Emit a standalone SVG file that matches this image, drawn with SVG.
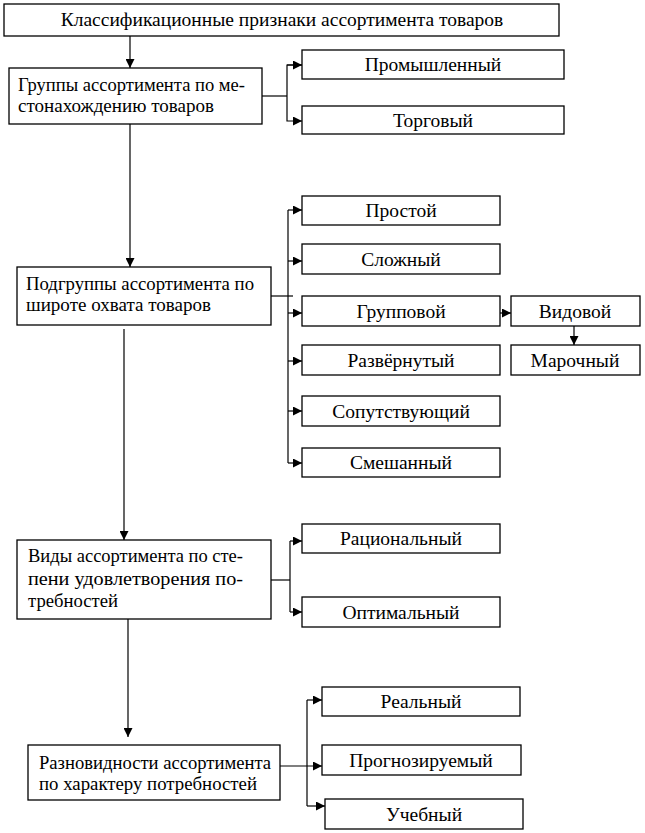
<svg xmlns="http://www.w3.org/2000/svg" width="645" height="833" viewBox="0 0 645 833">
<style>
rect{fill:#fff;stroke:#000;stroke-width:1.3}
text{font-family:'Liberation Serif','Times New Roman',serif;font-size:19.5px;fill:#000}
.c{text-anchor:middle}
.l{font-size:19px}
#connectors line,#connectors path{stroke:#000;stroke-width:1.2;fill:none}
</style>
<defs>
<marker id="ah" viewBox="0 0 10 10" refX="10" refY="5" markerWidth="9" markerHeight="9" markerUnits="userSpaceOnUse" orient="auto">
<path d="M0,0 L10,5 L0,10 z" fill="#000"/>
</marker>
</defs>
<rect width="645" height="833" style="fill:#fff;stroke:none"/>
<g id="connectors">
<line x1="130" y1="36" x2="130" y2="68" marker-end="url(#ah)"/>
<line x1="262" y1="96" x2="287" y2="96"/>
<path d="M302,65 H287 V121 H302" marker-end="url(#ah)"/>
<line x1="287" y1="65" x2="302" y2="65" marker-end="url(#ah)"/>
<line x1="130" y1="124" x2="130" y2="267" marker-end="url(#ah)"/>
<line x1="271" y1="296" x2="293" y2="296"/>
<line x1="288" y1="210" x2="288" y2="463"/>
<line x1="288" y1="210" x2="302" y2="210" marker-end="url(#ah)"/>
<line x1="288" y1="261" x2="302" y2="261" marker-end="url(#ah)"/>
<line x1="288" y1="313" x2="302" y2="313" marker-end="url(#ah)"/>
<line x1="288" y1="361" x2="302" y2="361" marker-end="url(#ah)"/>
<line x1="288" y1="411" x2="302" y2="411" marker-end="url(#ah)"/>
<line x1="288" y1="463" x2="302" y2="463" marker-end="url(#ah)"/>
<line x1="500" y1="313" x2="511" y2="313" marker-end="url(#ah)"/>
<line x1="574" y1="326" x2="574" y2="345" marker-end="url(#ah)"/>
<line x1="124" y1="329" x2="124" y2="540" marker-end="url(#ah)"/>
<line x1="271" y1="580" x2="290" y2="580"/>
<line x1="290" y1="541" x2="290" y2="612"/>
<line x1="290" y1="541" x2="302" y2="541" marker-end="url(#ah)"/>
<line x1="290" y1="612" x2="302" y2="612" marker-end="url(#ah)"/>
<line x1="128" y1="619" x2="128" y2="737" marker-end="url(#ah)"/>
<line x1="280" y1="766" x2="322" y2="766" marker-end="url(#ah)"/>
<line x1="307" y1="700" x2="307" y2="806"/>
<line x1="307" y1="700" x2="322" y2="700" marker-end="url(#ah)"/>
<line x1="307" y1="806" x2="325" y2="806" marker-end="url(#ah)"/>
</g>
<g id="n0"><rect x="4" y="4" width="555" height="32"/><text class="c" x="282" y="26">Классификационные признаки ассортимента товаров</text></g>
<g id="n1"><rect x="9" y="68" width="253" height="56"/><text class="l" x="18" y="91" textLength="227" lengthAdjust="spacingAndGlyphs">Группы ассортимента по ме-</text><text class="l" x="18" y="112" textLength="196" lengthAdjust="spacingAndGlyphs">стонахождению товаров</text></g>
<g id="n1a"><rect x="302" y="50" width="262" height="29"/><text class="c" x="433" y="71">Промышленный</text></g>
<g id="n1b"><rect x="302" y="106" width="262" height="28"/><text class="c" x="433" y="127">Торговый</text></g>
<g id="n2"><rect x="17" y="267" width="254" height="58"/><text class="l" x="26" y="290" textLength="228" lengthAdjust="spacingAndGlyphs">Подгруппы ассортимента по</text><text class="l" x="26" y="311" textLength="185" lengthAdjust="spacingAndGlyphs">широте охвата товаров</text></g>
<g id="n2a"><rect x="302" y="196" width="198" height="29"/><text class="c" x="401" y="217">Простой</text></g>
<g id="n2b"><rect x="302" y="244" width="198" height="30"/><text class="c" x="401" y="266">Сложный</text></g>
<g id="n2c"><rect x="302" y="296" width="198" height="30"/><text class="c" x="401" y="318">Групповой</text></g>
<g id="n2d"><rect x="302" y="345" width="198" height="30"/><text class="c" x="401" y="367">Развёрнутый</text></g>
<g id="n2e"><rect x="302" y="396" width="198" height="30"/><text class="c" x="401" y="418">Сопутствующий</text></g>
<g id="n2f"><rect x="302" y="448" width="198" height="29"/><text class="c" x="401" y="469">Смешанный</text></g>
<g id="n2g"><rect x="511" y="296" width="129" height="30"/><text class="c" x="575" y="318">Видовой</text></g>
<g id="n2h"><rect x="511" y="345" width="129" height="30"/><text class="c" x="575" y="367">Марочный</text></g>
<g id="n3"><rect x="17" y="540" width="254" height="79"/><text class="l" x="28" y="562" textLength="215" lengthAdjust="spacingAndGlyphs">Виды ассортимента по сте-</text><text class="l" x="28" y="585" textLength="215" lengthAdjust="spacingAndGlyphs">пени удовлетворения по-</text><text class="l" x="28" y="607" textLength="90" lengthAdjust="spacingAndGlyphs">требностей</text></g>
<g id="n3a"><rect x="302" y="524" width="198" height="29"/><text class="c" x="401" y="545">Рациональный</text></g>
<g id="n3b"><rect x="302" y="597" width="198" height="30"/><text class="c" x="401" y="619">Оптимальный</text></g>
<g id="n4"><rect x="28" y="745" width="252" height="55"/><text class="l" x="39" y="769" textLength="232" lengthAdjust="spacingAndGlyphs">Разновидности ассортимента</text><text class="l" x="39" y="790" textLength="218" lengthAdjust="spacingAndGlyphs">по характеру потребностей</text></g>
<g id="n4a"><rect x="322" y="687" width="198" height="29"/><text class="c" x="421" y="708">Реальный</text></g>
<g id="n4b"><rect x="322" y="745" width="199" height="30"/><text class="c" x="421" y="767">Прогнозируемый</text></g>
<g id="n4c"><rect x="325" y="799" width="198" height="30"/><text class="c" x="424" y="821">Учебный</text></g>
</svg>
